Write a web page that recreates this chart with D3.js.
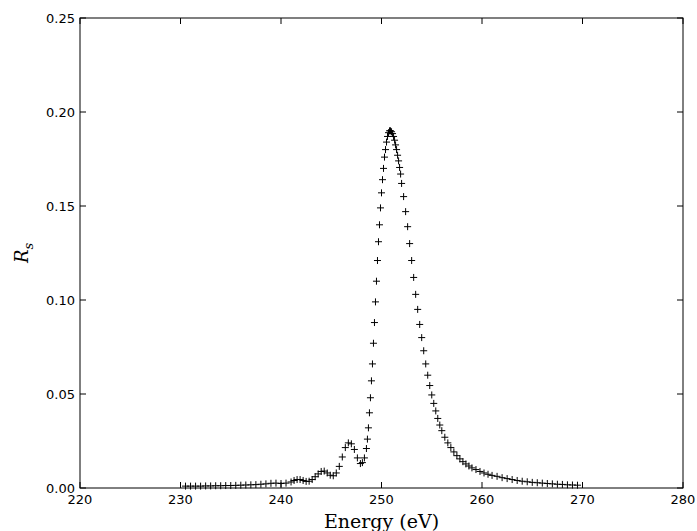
<!DOCTYPE html>
<html><head><meta charset="utf-8">
<script src="https://cdn.jsdelivr.net/npm/d3@7"></script>
<style>body{margin:0;background:#fff}</style></head>
<body><svg id="chart" width="697" height="531"></svg>
<script>
const energy = [230.5,231,231.5,232,232.5,233,233.5,234,234.5,235,235.5,236,236.5,237,237.5,238,238.5,239,239.5,240,240.5,241,241.3,241.6,241.9,242.2,242.5,242.8,243.1,243.4,243.7,244.0,244.3,244.6,244.9,245.2,245.5,245.8,246.1,246.4,246.7,247.0,247.3,247.6,247.9,248.1,248.3,248.5,248.6,248.7,248.8,248.9,249.0,249.1,249.2,249.3,249.4,249.5,249.6,249.7,249.8,249.9,250.0,250.1,250.2,250.3,250.4,250.5,250.6,250.7,250.8,250.9,251.0,251.1,251.2,251.3,251.4,251.5,251.6,251.7,251.8,251.9,252.0,252.2,252.4,252.6,252.8,253.0,253.2,253.4,253.6,253.8,254.0,254.2,254.4,254.6,254.8,255.0,255.2,255.4,255.6,255.8,256.0,256.3,256.6,256.9,257.2,257.5,257.8,258.1,258.4,258.7,259.0,259.4,259.8,260.2,260.6,261.0,261.5,262,262.5,263,263.5,264,264.5,265,265.5,266,266.5,267,267.5,268,268.5,269,269.5];
const rs = [0.0010,0.0010,0.0010,0.0010,0.0011,0.0011,0.0012,0.0012,0.0013,0.0013,0.0014,0.0015,0.0016,0.0017,0.0018,0.0020,0.0022,0.0025,0.0026,0.0024,0.0026,0.0032,0.0040,0.0045,0.0045,0.0040,0.0035,0.0036,0.0045,0.0060,0.0075,0.0088,0.0090,0.0080,0.0068,0.0065,0.0080,0.0115,0.0165,0.0215,0.0240,0.0235,0.0205,0.0160,0.0130,0.0135,0.0160,0.0210,0.0260,0.0320,0.0400,0.0480,0.0570,0.0660,0.0770,0.0880,0.0990,0.1100,0.1210,0.1310,0.1400,0.1490,0.1570,0.1640,0.1700,0.1760,0.1800,0.1840,0.1870,0.1890,0.1900,0.1900,0.1895,0.1885,0.1870,0.1850,0.1825,0.1800,0.1770,0.1740,0.1705,0.1670,0.1620,0.1550,0.1470,0.1390,0.1300,0.1210,0.1120,0.1030,0.0950,0.0870,0.0800,0.0730,0.0660,0.0600,0.0545,0.0495,0.0450,0.0410,0.0370,0.0335,0.0305,0.0270,0.0240,0.0215,0.0192,0.0172,0.0155,0.0140,0.0128,0.0117,0.0107,0.0098,0.0088,0.0080,0.0073,0.0067,0.0062,0.0055,0.0050,0.0045,0.0040,0.0036,0.0033,0.0030,0.0028,0.0026,0.0024,0.0022,0.0020,0.0019,0.0017,0.0016,0.0015,0.0013,0.0012];
const xTicks = [220,230,240,250,260,270,280];
const yTicks = [0,0.05,0.10,0.15,0.20,0.25];

const svg = d3.select("#chart");
const mLeft = 80, mRight = 683, mTop = 18, mBottom = 488;
const x = d3.scaleLinear().domain([220,280]).range([mLeft,mRight]);
const y = d3.scaleLinear().domain([0,0.25]).range([mBottom,mTop]);

// plus markers
const pts = d3.zip(energy, rs);
svg.append("g").selectAll("path").data(pts).enter().append("path")
  .attr("d", d => {
    const cx = x(d[0]), cy = y(d[1]), s = 3.5;
    return `M${cx-s},${cy}H${cx+s}M${cx},${cy-s}V${cy+s}`;
  })
  .attr("stroke","#000").attr("stroke-width",1).attr("fill","none");

// frame
svg.append("rect").attr("x",mLeft).attr("y",mTop).attr("width",mRight-mLeft).attr("height",mBottom-mTop)
  .attr("fill","none").attr("stroke","#000").attr("stroke-width",1);

const tickFont = "DejaVu Sans";
xTicks.forEach(t => {
  const px = x(t);
  svg.append("line").attr("x1",px).attr("x2",px).attr("y1",mBottom).attr("y2",mBottom-6).attr("stroke","#000");
  svg.append("line").attr("x1",px).attr("x2",px).attr("y1",mTop).attr("y2",mTop+6).attr("stroke","#000");
  svg.append("text").attr("x",px).attr("y",mBottom+16).attr("text-anchor","middle")
    .attr("font-family",tickFont).attr("font-size",13).text(t);
});
yTicks.forEach(t => {
  const py = y(t);
  svg.append("line").attr("x1",mLeft).attr("x2",mLeft+6).attr("y1",py).attr("y2",py).attr("stroke","#000");
  svg.append("line").attr("x1",mRight).attr("x2",mRight-6).attr("y1",py).attr("y2",py).attr("stroke","#000");
  svg.append("text").attr("x",mLeft-5).attr("y",py+5).attr("text-anchor","end")
    .attr("font-family",tickFont).attr("font-size",13).text(t.toFixed(2));
});

svg.append("text").attr("x",(mLeft+mRight)/2).attr("y",528).attr("text-anchor","middle")
  .attr("font-family","DejaVu Serif").attr("font-size",19).text("Energy (eV)");
const yl = svg.append("text").attr("transform",`translate(28,${(mTop+mBottom)/2}) rotate(-90)`)
  .attr("text-anchor","middle").attr("font-family","DejaVu Serif").attr("font-style","italic").attr("font-size",18);
yl.append("tspan").text("R");
yl.append("tspan").attr("font-size",13).attr("dy",5).text("s");
</script></body></html>
